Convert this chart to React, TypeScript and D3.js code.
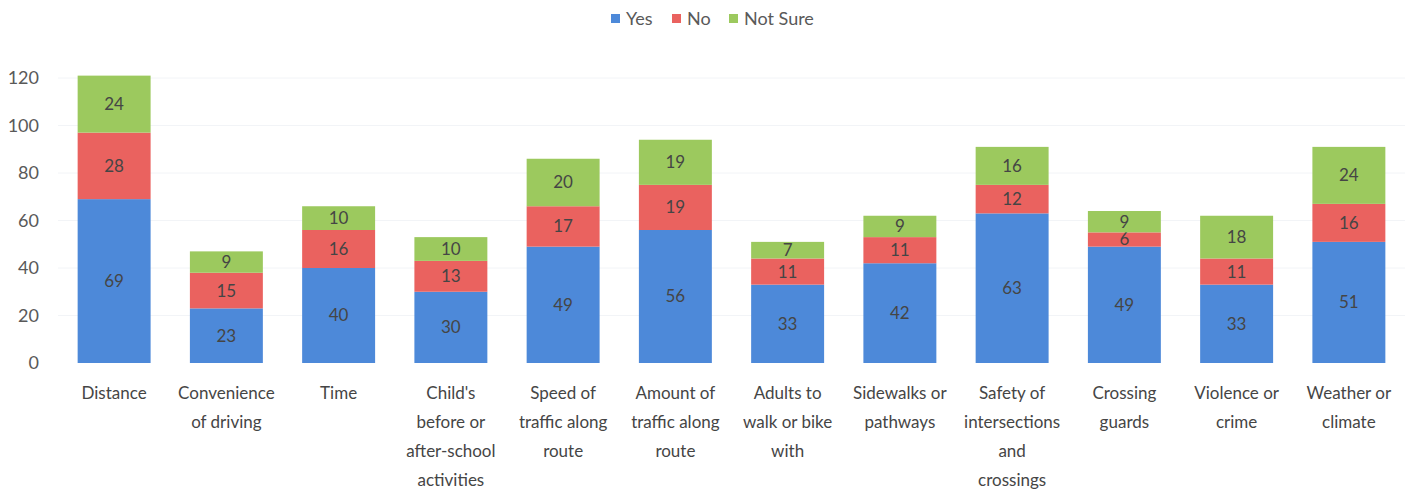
import React from "react";
import * as d3 from "d3";

const categories: string[][] = [
  ["Distance"],
  ["Convenience", "of driving"],
  ["Time"],
  ["Child's", "before or", "after-school", "activities"],
  ["Speed of", "traffic along", "route"],
  ["Amount of", "traffic along", "route"],
  ["Adults to", "walk or bike", "with"],
  ["Sidewalks or", "pathways"],
  ["Safety of", "intersections", "and", "crossings"],
  ["Crossing", "guards"],
  ["Violence or", "crime"],
  ["Weather or", "climate"],
];
const yes = [69, 23, 40, 30, 49, 56, 33, 42, 63, 49, 33, 51];
const no = [28, 15, 16, 13, 17, 19, 11, 11, 12, 6, 11, 16];
const notSure = [24, 9, 10, 10, 20, 19, 7, 9, 16, 9, 18, 24];
const seriesNames = ["Yes", "No", "Not Sure"];
const yTicks = [0, 20, 40, 60, 80, 100, 120];

const colors = ["#4d89d9", "#ea625f", "#9cc95e"];
const FONT = "Lato, 'Open Sans', sans-serif";

export default function App() {
  const W = 1416, H = 492;
  const x = d3
    .scaleBand<number>()
    .domain(d3.range(categories.length))
    .range([58, 1405])
    .paddingInner(0.35)
    .paddingOuter(0.175);
  const y = d3.scaleLinear().domain([0, 120]).range([363, 78]);

  const rows = categories.map((_, i) => ({ i, Yes: yes[i], No: no[i], "Not Sure": notSure[i] }));
  const stacked = d3.stack<any>().keys(seriesNames)(rows);

  const legendX = [611, 672, 729];

  return (
    <svg width={W} height={H} style={{ position: "absolute", left: 0, top: 0, background: "#fff" }}>
      {yTicks.map((t) => (
        <g key={t}>
          {t > 0 && (
            <line x1={58} x2={1405} y1={y(t)} y2={y(t)} stroke="#f2f4f7" strokeWidth={1} />
          )}
          <text x={39} y={y(t)} dy="0.35em" textAnchor="end" fontSize={18} fill="#595959" fontFamily={FONT}>
            {t}
          </text>
        </g>
      ))}
      {stacked.map((s, si) =>
        s.map((d, i) => {
          const x0 = x(i)!;
          const y0 = y(d[1]);
          const h = y(d[0]) - y(d[1]);
          return (
            <g key={`${si}-${i}`}>
              <rect x={x0} y={y0} width={x.bandwidth()} height={h} fill={colors[si]} />
              <text
                x={x0 + x.bandwidth() / 2}
                y={y0 + h / 2}
                dy="0.35em"
                textAnchor="middle"
                fontSize={17}
                fill="#454545"
                fontFamily={FONT}
              >
                {d[1] - d[0]}
              </text>
            </g>
          );
        })
      )}
      {categories.map((lines, i) => (
        <text
          key={i}
          x={x(i)! + x.bandwidth() / 2}
          textAnchor="middle"
          fontSize={17}
          fill="#454545"
          fontFamily={FONT}
        >
          {lines.map((l, li) => (
            <tspan key={li} x={x(i)! + x.bandwidth() / 2} y={399 + li * 29}>
              {l}
            </tspan>
          ))}
        </text>
      ))}
      {seriesNames.map((n, i) => (
        <g key={n}>
          <rect x={legendX[i]} y={14} width={9} height={9} fill={colors[i]} />
          <text x={legendX[i] + 15} y={19} dy="0.35em" fontSize={18} fill="#595959" fontFamily={FONT}>
            {n}
          </text>
        </g>
      ))}
    </svg>
  );
}
